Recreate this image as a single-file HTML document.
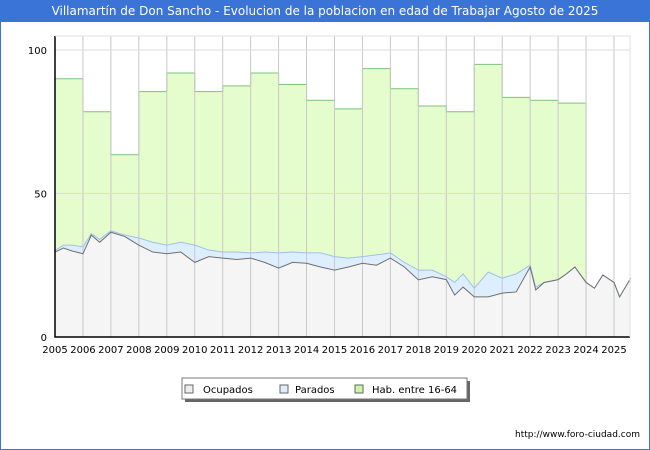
<!DOCTYPE html>
<html><head><meta charset="utf-8"><style>
body{margin:0;width:650px;height:450px;background:#fff;font-family:"DejaVu Sans","Liberation Sans",sans-serif;overflow:hidden}
#frame{position:absolute;left:0;top:0;width:648px;height:448px;border:1px solid #3a74d6}
#title{position:absolute;left:0;top:0;width:650px;height:22px;background:#3a74d6;color:#fff;font-size:12px;line-height:22px;text-align:center;font-family:"DejaVu Sans",sans-serif}
svg{position:absolute;left:0;top:0}
svg text{font-family:"DejaVu Sans",sans-serif}
</style></head><body>
<div id="frame"></div>
<div id="title">Villamartín de Don Sancho - Evolucion de la poblacion en edad de Trabajar Agosto de 2025</div>
<svg id="chart" width="650" height="450"></svg>
<script>
const habYears=[2005,2006,2007,2008,2009,2010,2011,2012,2013,2014,2015,2016,2017,2018,2019,2020,2021,2022,2023];
const habValues=[90,78.5,63.5,85.5,92,85.5,87.5,92,88,82.5,79.5,93.5,86.5,80.5,78.5,95,83.5,82.5,81.5];
const times=[2005,2005.3,2005.6,2006,2006.3,2006.6,2007,2007.5,2008,2008.5,2009,2009.5,2010,2010.5,2011,2011.5,2012,2012.5,2013,2013.5,2014,2014.5,2015,2015.5,2016,2016.5,2017,2017.5,2018,2018.5,2019,2019.3,2019.6,2020,2020.5,2021,2021.5,2022,2022.2,2022.5,2023,2023.3,2023.6,2024,2024.3,2024.6,2025,2025.2,2025.6];
const ocupados=[29.6,31,30,29,35.5,33,36.5,35,32,29.6,29,29.6,26,28,27.5,27,27.5,26,24,26,25.7,24.4,23.3,24.4,25.7,25,27.5,24.4,19.9,21,20,14.6,17.4,14,14,15.3,15.7,24.4,16.4,19,20,22,24.4,19,17,21.6,19,14,20.5];
const parados=[0.5,1,2,2.4,0.5,1,0.5,0.5,2.5,3.4,3,3.4,6,2.3,2.1,2.6,1.8,3.6,5.3,3.6,3.6,4.9,4.7,3.1,2.3,3.6,1.8,1.6,3.4,2.3,1,4.4,4.6,3,8.6,5.2,6.3,0.6,1,0,0,0,0,0,0,0,0,0,0];
const yTicks=[0,50,100];
const xTicks=[2005,2006,2007,2008,2009,2010,2011,2012,2013,2014,2015,2016,2017,2018,2019,2020,2021,2022,2023,2024,2025];
const L=55,R=630,T=36,B=337,X0=2005,XS=27.95;
const x=t=>L+(t-X0)*XS, y=v=>B-v*(B-50)/100;
const svg=document.getElementById('chart');
const NS='http://www.w3.org/2000/svg';
function mk(tag,attrs,parent){const e=document.createElementNS(NS,tag);for(const k in attrs)e.setAttribute(k,attrs[k]);(parent||svg).appendChild(e);return e;}
let e=mk('rect',{x:L,y:T,width:R-L,height:B-T,fill:'#fff'});


let hp=[];habYears.forEach((yr,i)=>{hp.push(x(yr)+','+y(habValues[i]));hp.push(x(yr+1)+','+y(habValues[i]));});
hp.push(x(2024)+','+y(ocupados[43]));
let ip=times.map((t,i)=>[t,i]).filter(a=>a[0]<=2024).reverse();
ip.forEach(a=>hp.push(x(a[0])+','+y(ocupados[a[1]]+parados[a[1]])));
e=mk('polygon',{points:hp.join(' '),fill:'#e5fccc'});


e=mk('polyline',{points:hp.slice(0,habYears.length*2+1).join(' '),fill:'none',stroke:'#7cc47c','stroke-width':1});


let tot=times.map((t,i)=>x(t)+','+y(ocupados[i]+parados[i]));
let oc=times.map((t,i)=>x(t)+','+y(ocupados[i]));
e=mk('polygon',{points:tot.concat(oc.slice().reverse()).join(' '),fill:'#ddeeff'});


e=mk('polygon',{points:oc.concat([x(times[times.length-1])+','+B,x(X0)+','+B]).join(' '),fill:'#f5f5f5'});


xTicks.forEach(t=>{let g=mk('line',{x1:x(t),x2:x(t),y1:T,y2:B,stroke:'#c8c8c8','stroke-width':1});


let tx=mk('text',{x:x(t),y:B+16,'font-size':10,'text-anchor':'middle',fill:'#000'});tx.textContent=t;

});
yTicks.forEach(v=>{let g=mk('line',{x1:L,x2:R,y1:y(v),y2:y(v),stroke:'#dcdcdc','stroke-width':1});


let tx=mk('text',{x:L-8,y:y(v)+4,'font-size':10,'text-anchor':'end',fill:'#000'});tx.textContent=v;

});
e=mk('polyline',{points:tot.join(' '),fill:'none',stroke:'#a0c0f0','stroke-width':1});


e=mk('polyline',{points:oc.join(' '),fill:'none',stroke:'#707070','stroke-width':1});


e=mk('path',{d:`M${L},${T}V${B}H${R}`,fill:'none',stroke:'#000','stroke-width':1.5});


e=mk('path',{d:`M${L},${T}H${R}V${B}`,fill:'none',stroke:'#e0e0e0','stroke-width':1});


let lg=mk('g',{});


mk('rect',{x:185,y:381,width:285,height:21,fill:'#666'},lg);
mk('rect',{x:182,y:378,width:285,height:21,fill:'#fff',stroke:'#777','stroke-width':1},lg);
[['Ocupados','#eeeeee',185,203],['Parados','#ddeeff',280,295],['Hab. entre 16-64','#ccf5a8',355,372]].forEach(a=>{
let r=mk('rect',{x:a[2],y:385,width:8,height:8,fill:a[1],stroke:'#666'},lg);


let t=mk('text',{x:a[3],y:393,'font-size':10,fill:'#000'},lg);t.textContent=a[0];

});
let u=mk('text',{x:640,y:437,'font-size':9,'text-anchor':'end',fill:'#000'});u.textContent='http://www.foro-ciudad.com';


</script>
</body></html>
